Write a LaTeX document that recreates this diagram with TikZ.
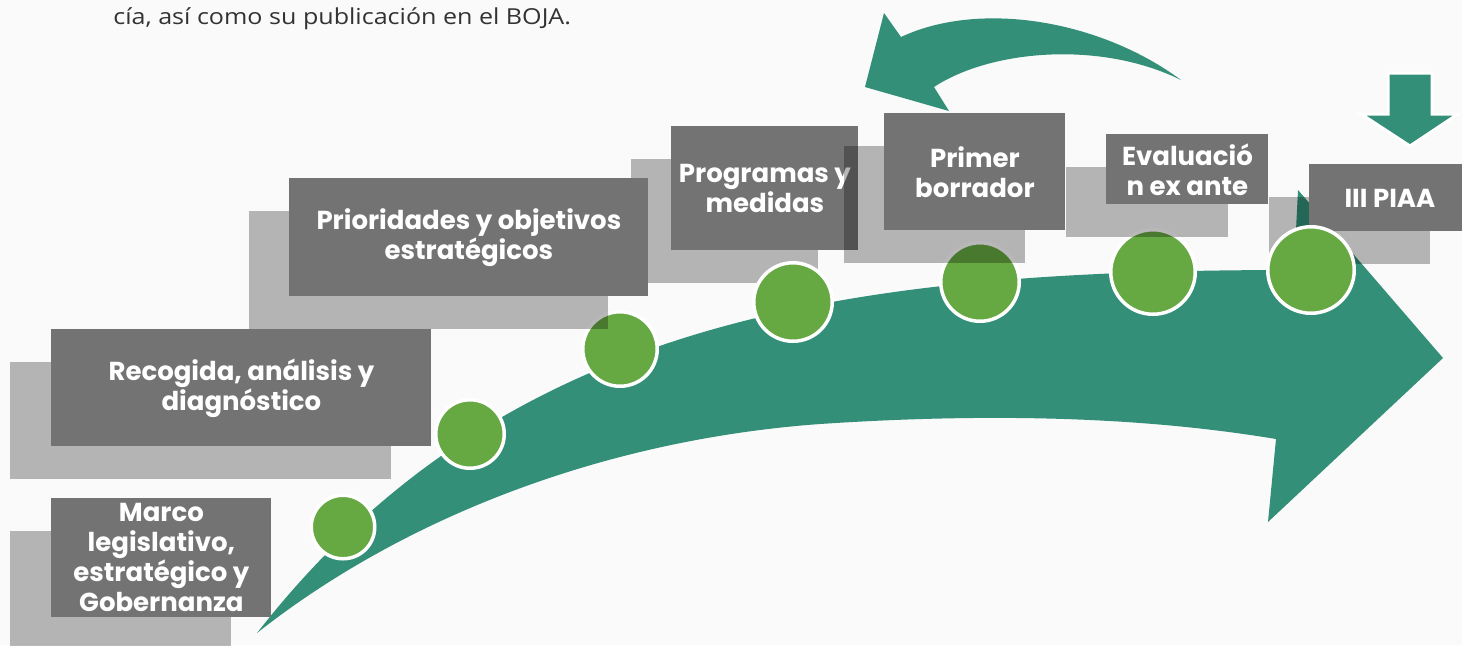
\documentclass[tikz,border=0pt]{standalone}
\usepackage{fontspec}
\setmainfont[FakeStretch=1.14]{Open Sans}
\newfontfamily\stagefont{Poppins}
\usetikzlibrary{positioning}
\definecolor{bgwhite}{HTML}{FAFAFA}
\definecolor{stagegray}{HTML}{737373}
\definecolor{flowgreen}{HTML}{338F78}
\definecolor{dotgreen}{HTML}{66A841}
\definecolor{captext}{HTML}{333333}
\tikzset{
    stage box/.style = {
        fill = stagegray,
        text = white,
        anchor = north west,
        inner sep = 0pt,
        align = center,
        font = \stagefont\bfseries\fontsize{13}{15}\selectfont,
        },
    shade box/.style = {
        fill = black,
        fill opacity = 0.28,
        },
    dot/.style = {
        circle,
        fill = dotgreen,
        draw = white,
        line width = 1.75pt,
        inner sep = 0pt,
        },
    flow/.style = {
        fill = flowgreen,
        },
    flow outlined/.style = {
        fill = flowgreen,
        draw = white,
        line width = 1.5pt,
        },
}

\begin{document}
\begin{tikzpicture}[x=0.5pt, y=-0.5pt]
    \useasboundingbox (0,0) rectangle (1462,645);
    \fill[bgwhite] (0,0) rectangle (1462,645);

    % main arrow
    \fill[flow] (257,633) .. controls (503,318) and (844,270) .. (1294,270) -- (1298,190) -- (1443,358) -- (1268,522) -- (1276,439) .. controls (1150,418) and (1000,412) .. (820,424) .. controls (600,440) and (400,520) .. (257,633) -- cycle;

    \node[dot, minimum size=37.25pt] (d3) at (620,349) {};
    \node[dot, minimum size=39.25pt] (d5) at (980,282) {};
    \node[dot, minimum size=42.25pt] (d6) at (1153,272) {};

    \fill[shade box] (10,531) rectangle (231,650);
    \node[stage box, minimum width=110pt, minimum height=59.5pt] (marco) at (51,498) {Marco\\legislativo,\\estratégico y\\Gobernanza};
    \fill[shade box] (10,362) rectangle (391,479);
    \node[stage box, minimum width=190pt, minimum height=58.5pt] (recogida) at (51,329) {Recogida, análisis y\\diagnóstico};
    \fill[shade box] (249,211) rectangle (608,329);
    \fill[shade box] (631,159) rectangle (818,283);
    \node[stage box, minimum width=179.5pt, minimum height=59pt] (prioridades) at (289,178) {Prioridades y objetivos\\estratégicos};
    \node[stage box, minimum width=93.5pt, minimum height=62pt] (programas) at (671,126) {Programas y\\medidas};
    \fill[shade box] (844,146) rectangle (1025,263);
    \node[stage box, minimum width=90.5pt, minimum height=58.5pt] (borrador) at (884,113) {Primer\\borrador};
    \fill[shade box] (1066,167) rectangle (1228,237);
    \node[stage box, minimum width=81pt, minimum height=35pt] (evaluacion) at (1106,134) {Evaluació\\n ex ante};
    \fill[shade box] (1269,197) rectangle (1430,264);
    \node[stage box, minimum width=80.5pt, minimum height=33.5pt] (piaa) at (1309,164) {III PIAA};

    \node[dot, minimum size=31.75pt] (d1) at (343,527) {};
    \node[dot, minimum size=34.25pt] (d2) at (470,434) {};
    \node[dot, minimum size=39.25pt] (d4) at (793,302) {};
    \node[dot, minimum size=43.25pt] (d7) at (1311,270) {};

    % return arrow and entry arrow
    \fill[flow] (1181,80) .. controls (1100,20) and (980,0) .. (901,37) -- (884,13) -- (865,87) -- (949,111) -- (934,87) .. controls (990,50) and (1100,40) .. (1181,80) -- cycle;
    \filldraw[flow outlined] (1388,73) -- (1432,73) -- (1432,114) -- (1458,114) -- (1410,146) -- (1361,114) -- (1388,114) -- cycle;

    \node[anchor=base west, inner sep=0pt, text=captext, font=\fontsize{11}{13}\selectfont] (boja) at (113,24) {cía, así como su publicación en el BOJA.};
\end{tikzpicture}
\end{document}
